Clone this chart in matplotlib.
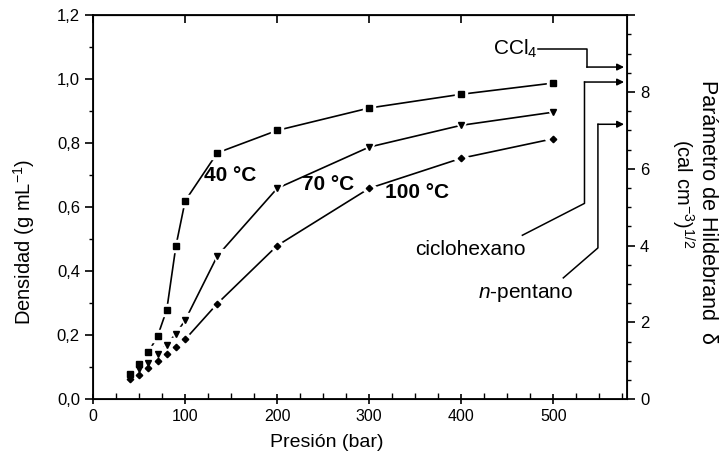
import matplotlib
matplotlib.use("Agg")
import matplotlib.pyplot as plt
from matplotlib.ticker import MultipleLocator, FuncFormatter

plt.rcParams['font.family'] = ['Liberation Sans', 'DejaVu Sans']
plt.rcParams['mathtext.fontset'] = 'custom'
plt.rcParams['mathtext.rm'] = 'Liberation Sans'
plt.rcParams['mathtext.it'] = 'Liberation Sans:italic'

# datos
presion = [40, 50, 60, 70, 80, 90, 100, 135, 200, 300, 400, 500]
dens_40 = [0.080, 0.110, 0.147, 0.197, 0.280, 0.480, 0.620, 0.770, 0.840, 0.910, 0.953, 0.988]
dens_70 = [0.075, 0.093, 0.114, 0.140, 0.171, 0.205, 0.247, 0.448, 0.659, 0.788, 0.856, 0.897]
dens_100 = [0.062, 0.077, 0.098, 0.119, 0.140, 0.163, 0.187, 0.299, 0.480, 0.659, 0.753, 0.814]

series = [(dens_40, 's', 4.0, '40 °C', (149, 0.699)),
          (dens_70, 'v', 4.6, '70 °C', (255, 0.670)),
          (dens_100, 'D', 3.3, '100 °C', (352, 0.645))]

# parametro de Hildebrand (cal cm-3)^1/2
disolventes = ['CCl$_4$', 'ciclohexano', '$n$-pentano']
delta = [8.65, 8.26, 7.16]

fig = plt.figure(figsize=(7.28, 4.61), dpi=100)
ax = fig.add_axes([0.128, 0.134, 0.733, 0.833])

for dens, mk, ms, etiqueta, pos in series:
    ax.plot(presion, dens, '-', color='black', lw=1.2, zorder=2)
    ax.plot(presion, dens, mk, color='white', ms=ms + 5, zorder=3)
    ax.plot(presion, dens, mk, color='black', ms=ms, zorder=4)
    ax.text(pos[0], pos[1], etiqueta, fontsize=15, fontweight='bold',
            ha='center', va='center', zorder=5)

ax.set_xlim(0, 580)
ax.set_ylim(0, 1.2)
ax.xaxis.set_major_locator(MultipleLocator(100))
ax.xaxis.set_minor_locator(MultipleLocator(25))
ax.yaxis.set_major_locator(MultipleLocator(0.2))
ax.yaxis.set_minor_locator(MultipleLocator(0.1))
ax.yaxis.set_major_formatter(FuncFormatter(lambda v, p: ('%.1f' % v).replace('.', ',')))
ax.xaxis.set_major_formatter(FuncFormatter(lambda v, p: '%d' % v if v <= 500 else ''))

ax.tick_params(axis='x', which='major', direction='inout', length=7, width=1.2, labelsize=11.5)
ax.tick_params(axis='x', which='minor', direction='in', length=4, width=1)
ax.tick_params(axis='y', which='major', direction='out', length=6, width=1.2, labelsize=12)
ax.tick_params(axis='y', which='minor', direction='out', length=3, width=1)
for s in ax.spines.values():
    s.set_linewidth(1.3)

arriba = ax.secondary_xaxis('top')
arriba.xaxis.set_major_locator(MultipleLocator(100))
arriba.tick_params(direction='in', length=6, width=1.2, labeltop=False)

ax.set_xlabel('Presión (bar)', fontsize=14)
ax.xaxis.set_label_coords(0.438, -0.09)
ax.set_ylabel('Densidad (g mL$^{-1}$)', fontsize=14.5)
ax.yaxis.set_label_coords(-0.105, 0.41)

ax2 = ax.twinx()
ax2.set_ylim(0, 10)
ax2.yaxis.set_major_locator(MultipleLocator(2))
ax2.yaxis.set_minor_locator(MultipleLocator(0.5))
ax2.yaxis.set_major_formatter(FuncFormatter(lambda v, p: '%d' % v if v <= 8 else ''))
ax2.tick_params(axis='y', which='major', direction='out', length=6, width=1.2, labelsize=12)
ax2.tick_params(axis='y', which='minor', direction='out', length=3, width=1)

fig.text(0.972, 0.54, 'Parámetro de Hildebrand  δ', fontsize=15.5, rotation=270,
         ha='center', va='center')
fig.text(0.937, 0.58, '(cal cm$^{-3}$)$^{1/2}$', fontsize=14.5, rotation=270,
         ha='center', va='center')

# lineas guia hacia el eje derecho
guias = [([484, 536.5, 536.5], [9.13, 9.13, delta[0]]),
         ([466.5, 534, 534], [4.27, 5.1, delta[1]]),
         ([511, 548.6, 548.6], [3.16, 3.94, delta[2]])]
for (gx, gy), d in zip(guias, delta):
    ax2.plot(gx, gy, color='black', lw=1.1)
    ax2.annotate('', xy=(577, d), xytext=(gx[-1], d),
                 arrowprops=dict(arrowstyle='-|>', color='black', lw=1.1,
                                 mutation_scale=10, shrinkA=0, shrinkB=0))

ax2.text(459, 9.12, disolventes[0], fontsize=15, ha='center', va='center')
ax2.text(410, 3.91, disolventes[1], fontsize=15, ha='center', va='center')
ax2.text(470, 2.77, disolventes[2], fontsize=15, ha='center', va='center')

fig.savefig('out.png', dpi=100)
